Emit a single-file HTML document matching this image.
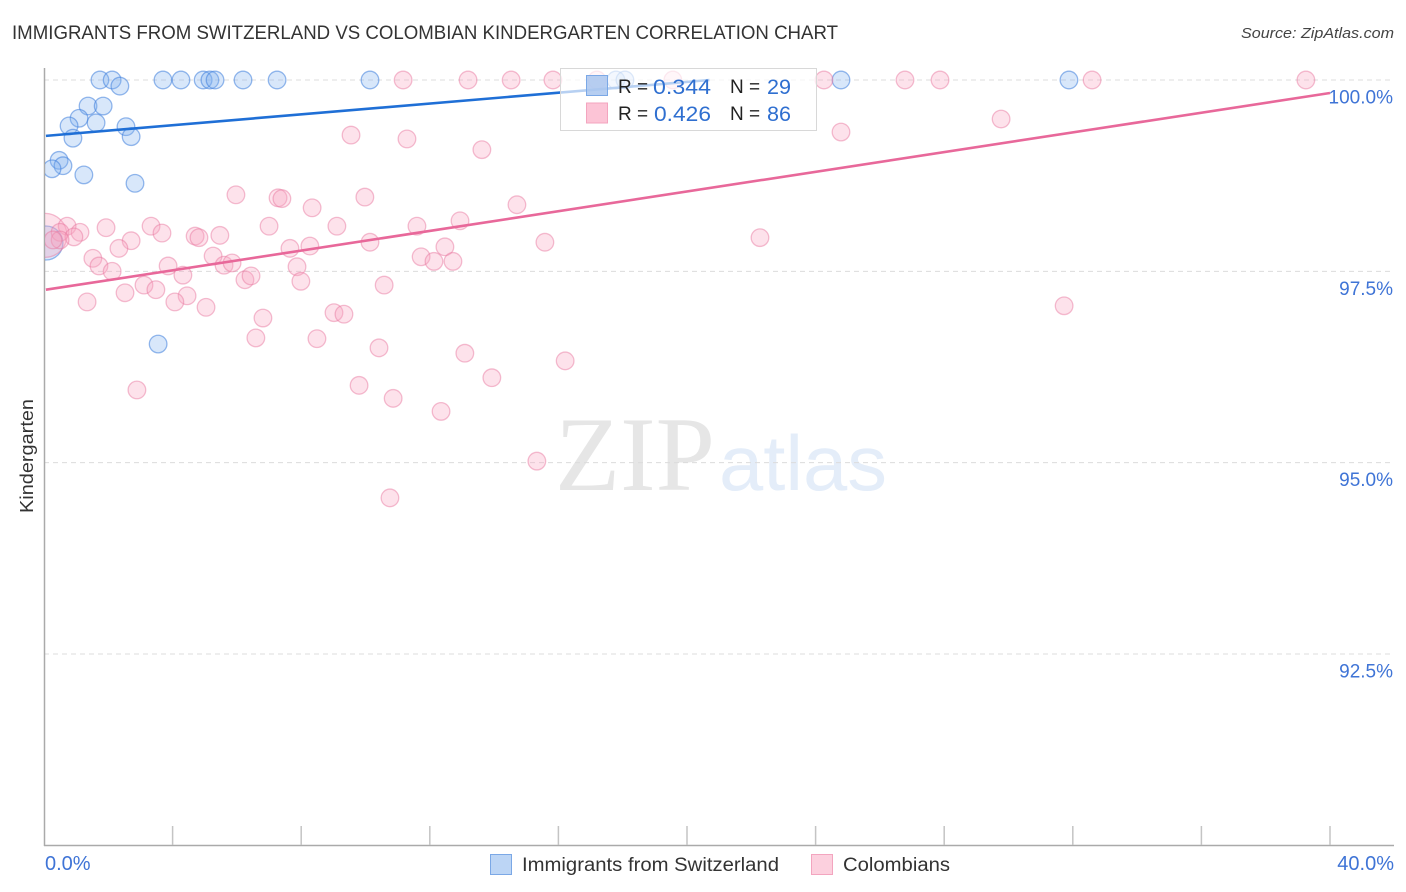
<!DOCTYPE html>
<html lang="en">
<head>
<meta charset="utf-8">
<title>Immigrants from Switzerland vs Colombian Kindergarten Correlation Chart</title>
<style>
html,body{margin:0;padding:0;background:#fff;}
svg{display:block;font-family:"Liberation Sans",sans-serif;}
</style>
</head>
<body>
<svg id="chart" xmlns="http://www.w3.org/2000/svg" width="1406" height="892" viewBox="0 0 1406 892">
  <defs>
    <clipPath id="plot-clip"><rect x="45" y="60" width="1350" height="785"/></clipPath>
  </defs>
  <rect x="0" y="0" width="1406" height="892" fill="#fff"/>
  <text x="12" y="39" font-size="19" fill="#333" textLength="826" lengthAdjust="spacingAndGlyphs">IMMIGRANTS FROM SWITZERLAND VS COLOMBIAN KINDERGARTEN CORRELATION CHART</text>
  <text x="1394" y="38" font-size="15" font-style="italic" fill="#444" text-anchor="end" textLength="153" lengthAdjust="spacingAndGlyphs">Source: ZipAtlas.com</text>
  <g>
    <text x="555" y="490" font-size="106" font-family="'Liberation Serif',serif" fill="#e6e6e6" textLength="160" lengthAdjust="spacingAndGlyphs">ZIP</text>
    <text x="719" y="490" font-size="78" fill="#e4edf9" textLength="168" lengthAdjust="spacingAndGlyphs">atlas</text>
  </g>
  <g id="grid"></g>
  <g id="axes"></g>
  <g id="swiss-points" clip-path="url(#plot-clip)"></g>
  <g id="colombian-points" clip-path="url(#plot-clip)"></g>
  <g id="trends"></g>
  <text transform="translate(33,456) rotate(-90)" font-size="18" fill="#333" text-anchor="middle" textLength="114" lengthAdjust="spacingAndGlyphs">Kindergarten</text>
  <g id="tick-labels"></g>

  <g>
    <rect x="560.5" y="68.5" width="256" height="62" fill="#fff" fill-opacity="0.68" stroke="#d8d8d8" stroke-width="1"/>
    <rect x="586.5" y="75.5" width="21" height="20" fill="#a9c6ef" fill-opacity="0.85" stroke="#7ba8e6"/>
    <rect x="586.5" y="103" width="21" height="20" fill="#fcc4d6" stroke="#f3a5bf"/>
    <text x="618" y="93" font-size="19" fill="#222">R =</text>
    <text x="653" y="94" font-size="21" fill="#2f6fd0" textLength="58" lengthAdjust="spacingAndGlyphs">0.344</text>
    <text x="730" y="93" font-size="19" fill="#222">N =</text>
    <text x="767" y="94" font-size="21" fill="#2f6fd0" textLength="24" lengthAdjust="spacingAndGlyphs">29</text>
    <text x="618" y="120" font-size="19" fill="#222">R =</text>
    <text x="654" y="121" font-size="21" fill="#2f6fd0" textLength="57" lengthAdjust="spacingAndGlyphs">0.426</text>
    <text x="730" y="120" font-size="19" fill="#222">N =</text>
    <text x="767" y="121" font-size="21" fill="#2f6fd0" textLength="24" lengthAdjust="spacingAndGlyphs">86</text>
  </g>

  <g>
    <rect x="490.5" y="854.5" width="21" height="20" fill="#bcd5f5" stroke="#7ba8e6"/>
    <text x="522" y="871" font-size="19" fill="#333" textLength="257" lengthAdjust="spacingAndGlyphs">Immigrants from Switzerland</text>
    <rect x="811.5" y="854.5" width="21" height="20" fill="#fcd0de" stroke="#f3a5bf"/>
    <text x="843" y="871" font-size="19" fill="#333" textLength="107" lengthAdjust="spacingAndGlyphs">Colombians</text>
  </g>
</svg>
<script>
// Tick values and labels
const yTicks = [100, 97.5, 95, 92.5];
const yTickLabels = ["100.0%", "97.5%", "95.0%", "92.5%"];
const xTicks = [4, 8, 12, 16, 20, 24, 28, 32, 36, 40];
const xEndTicks = [0, 40];
const xEndLabels = ["0.0%", "40.0%"];

// Immigrants from Switzerland: x in %, y in %
const swissX = [1.74, 2.12, 2.36, 3.70, 4.26, 4.95, 5.16, 5.32, 6.19, 7.25, 10.14, 17.79, 18.07, 24.79, 31.88, 1.37, 1.84, 1.09, 0.78, 1.62, 2.55, 0.90, 2.71, 0.47, 0.59, 0.25, 1.24, 2.83, 3.55];
const swissY = [100, 100, 99.92, 100, 100, 100, 100, 100, 100, 100, 100, 100, 100, 100, 100, 99.66, 99.66, 99.50, 99.40, 99.44, 99.39, 99.24, 99.26, 98.95, 98.88, 98.84, 98.76, 98.65, 96.55];
const swissLargeX = [0.06];
const swissLargeY = [97.87];

// Colombians: x in %, y in %
const colombianX = [11.17, 13.19, 14.53, 15.83, 17.20, 19.56, 24.26, 26.78, 27.87, 32.60, 39.25, 9.55, 11.29, 13.62, 24.79, 29.77, 5.97, 7.28, 7.40, 8.34, 9.98, 14.71, 3.33, 1.93, 3.67, 4.70, 4.82, 5.47, 7.00, 9.11, 11.60, 12.94, 0.72, 0.50, 1.12, 0.93, 0.50, 0.28, 2.71, 2.33, 7.65, 8.27, 10.14, 15.58, 22.27, 12.47, 1.52, 1.71, 2.12, 3.86, 4.32, 5.26, 5.60, 5.85, 7.87, 11.73, 12.13, 12.72, 2.52, 3.11, 3.48, 4.45, 4.07, 6.25, 6.44, 7.99, 10.58, 1.34, 5.04, 6.81, 9.02, 9.33, 31.73, 6.59, 8.49, 10.42, 13.09, 16.21, 9.80, 13.93, 2.89, 10.86, 12.35, 15.33, 10.76];
const colombianY = [100, 100, 100, 100, 100, 100, 100, 100, 100, 100, 100, 99.28, 99.23, 99.09, 99.32, 99.49, 98.50, 98.46, 98.45, 98.33, 98.47, 98.37, 98.09, 98.07, 98.00, 97.96, 97.94, 97.97, 98.09, 98.09, 98.09, 98.16, 98.09, 98.01, 98.01, 97.95, 97.91, 97.91, 97.90, 97.80, 97.80, 97.83, 97.88, 97.88, 97.94, 97.82, 97.67, 97.57, 97.50, 97.57, 97.45, 97.70, 97.58, 97.61, 97.56, 97.69, 97.63, 97.63, 97.22, 97.32, 97.26, 97.18, 97.10, 97.39, 97.44, 97.37, 97.32, 97.10, 97.03, 96.89, 96.96, 96.94, 97.05, 96.63, 96.62, 96.50, 96.43, 96.33, 96.01, 96.11, 95.95, 95.84, 95.67, 95.02, 94.54];
const colombianLargeX = [0.03];
const colombianLargeY = [97.97];

// Trend line endpoints
const swissTrendX = [0.06, 20.7];
const swissTrendY = [99.27, 100];
const colombianTrendX = [0.06, 40];
const colombianTrendY = [97.26, 99.83];

const NS = 'http://www.w3.org/2000/svg';
const xScale = v => 44 + v * (1330 - 44) / 40;
const yScale = v => 80 + (100 - v) * (654 - 80) / 7.5;

function make(tag, attrs, parent) {
  const el = document.createElementNS(NS, tag);
  for (const k in attrs) el.setAttribute(k, attrs[k]);
  parent.appendChild(el);
  return el;
}

const grid = document.getElementById('grid');
yTicks.forEach(v => {
  const line = make('line', {x1: 44, x2: 1394, y1: yScale(v), y2: yScale(v), stroke: '#dcdcdc', 'stroke-width': 1, 'stroke-dasharray': '5 4'}, grid);
  
  
});

const axes = document.getElementById('axes');
const yAxisLine = make('line', {x1: 44.5, x2: 44.5, y1: 68, y2: 846, stroke: '#aaa', 'stroke-width': 1.5}, axes);


const xAxisLine = make('line', {x1: 44, x2: 1394, y1: 845.5, y2: 845.5, stroke: '#aaa', 'stroke-width': 1.5}, axes);


xTicks.forEach(v => {
  const tick = make('line', {x1: xScale(v), x2: xScale(v), y1: 826, y2: 845, stroke: '#c4c4c4', 'stroke-width': 1.5}, axes);
  
  
});

const labels = document.getElementById('tick-labels');
yTicks.forEach((v, i) => {
  const t = make('text', {x: 1393, y: yScale(v) + 23.5, 'font-size': 19, fill: '#3f74d6', 'text-anchor': 'end'}, labels);
  
  
  t.textContent = yTickLabels[i];
});
xEndTicks.forEach((v, i) => {
  const anchor = i === 0 ? 'start' : 'end';
  const px = i === 0 ? xScale(v) + 1 : xScale(v) + 64;
  const t = make('text', {x: px, y: 870, 'font-size': 20, fill: '#3f74d6', 'text-anchor': anchor}, labels);
  
  
  t.textContent = xEndLabels[i];
});

const swissGroup = document.getElementById('swiss-points');
const colombianGroup = document.getElementById('colombian-points');
const swissStyle = {fill: '#7fb0ee', 'fill-opacity': 0.3, stroke: '#3f7fdc', 'stroke-opacity': 0.55, 'stroke-width': 1.3};
const colombianStyle = {fill: '#f9a5c0', 'fill-opacity': 0.32, stroke: '#e8779f', 'stroke-opacity': 0.48, 'stroke-width': 1.3};

swissLargeX.forEach((x, i) => {
  const c = make('circle', Object.assign({cx: xScale(x), cy: yScale(swissLargeY[i]), r: 17}, swissStyle), swissGroup);
  
  
});
swissX.forEach((x, i) => {
  const c = make('circle', Object.assign({cx: xScale(x), cy: yScale(swissY[i]), r: 8.8}, swissStyle), swissGroup);
  
  
});
colombianLargeX.forEach((x, i) => {
  const c = make('circle', Object.assign({cx: xScale(x), cy: yScale(colombianLargeY[i]), r: 22}, colombianStyle), colombianGroup);
  
  
});
colombianX.forEach((x, i) => {
  const c = make('circle', Object.assign({cx: xScale(x), cy: yScale(colombianY[i]), r: 8.8}, colombianStyle), colombianGroup);
  
  
});

const trends = document.getElementById('trends');
const swissTrend = make('line', {x1: xScale(swissTrendX[0]), y1: yScale(swissTrendY[0]), x2: xScale(swissTrendX[1]), y2: yScale(swissTrendY[1]), stroke: '#1f6fd6', 'stroke-width': 2.6}, trends);


const colombianTrend = make('line', {x1: xScale(colombianTrendX[0]), y1: yScale(colombianTrendY[0]), x2: xScale(colombianTrendX[1]), y2: yScale(colombianTrendY[1]), stroke: '#e8689a', 'stroke-width': 2.6}, trends);


</script>
</body>
</html>
